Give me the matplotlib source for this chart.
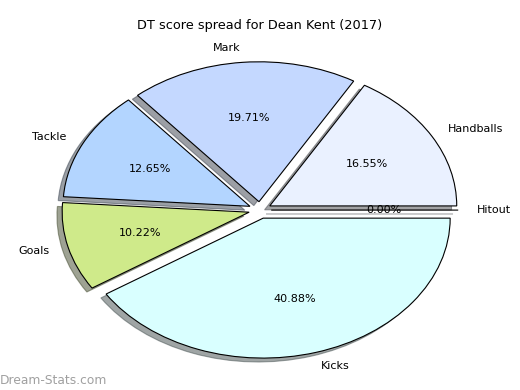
import matplotlib
matplotlib.use("Agg")
import matplotlib.pyplot as plt

labels = ["Handballs", "Mark", "Tackle", "Goals", "Kicks", "Hitout"]
shares = [16.55, 19.71, 12.65, 10.22, 40.88, 0.00]
colors = ["#eaf1ff", "#c4d8ff", "#b3d5ff", "#cfea8a", "#d9ffff", "#e8f4ff"]
explode = [0.06] * len(labels)

fig = plt.figure(figsize=(5.2, 3.9), dpi=100)
ax = fig.add_axes([0.0505, 0.0128, 0.899, 0.897])

wedges, texts, autotexts = ax.pie(
    shares, labels=labels, colors=colors, explode=explode,
    autopct="%.2f%%", shadow=True, startangle=0,
    wedgeprops={"edgecolor": "black", "linewidth": 0.8},
    textprops={"fontsize": 8},
)
ax.set_aspect("auto")
ax.set_xlim(-1.25, 1.25)
ax.set_ylim(-1.25, 1.25)

fig.text(0.5, 0.935, "DT score spread for Dean Kent (2017)", ha="center",
         va="center", fontsize=9.3)
fig.text(0.0, 0.025, "Dream-Stats.com", ha="left", va="center",
         fontsize=8.8, color="#a0a0a0")

fig.savefig("out.png", dpi=100)
